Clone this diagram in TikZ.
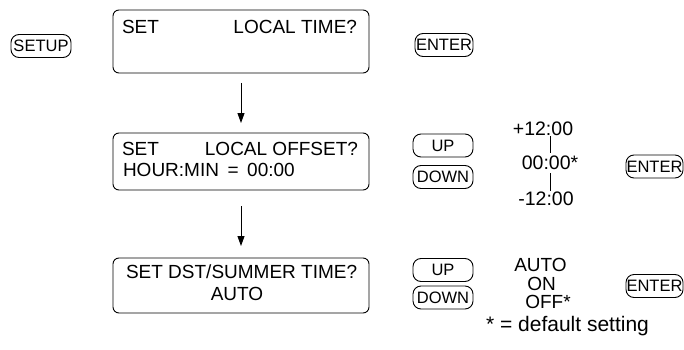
\documentclass[tikz,border=0pt]{standalone}
\usepackage{fontspec}
\setmainfont{Liberation Sans}
\usetikzlibrary{arrows.meta}
\begin{document}
\begin{tikzpicture}[x=1pt,y=-1pt,
  disp/.style={draw, line width=0.9pt, rounded corners=6pt, inner sep=0pt, outer sep=0pt, minimum width=256pt},
  btn/.style={draw, line width=0.9pt, rounded corners=8pt, inner sep=0pt, outer sep=0pt, minimum height=23pt, font=\fontsize{16.5}{16.5}\selectfont},
  txt/.style={inner sep=0pt, outer sep=0pt, font=\fontsize{19}{19}\selectfont},
  num/.style={inner sep=0pt, outer sep=0pt, font=\fontsize{19.5}{19.5}\selectfont},
  tick/.style={line width=0.8pt},
  arr/.style={line width=0.9pt, -{Triangle[length=10pt,width=7pt]}}]
\useasboundingbox (0,0) rectangle (684,350);
% display boxes
\node[disp, minimum height=63pt] (d1) at (241,41.5) {};
\node[disp, minimum height=57pt] (d2) at (241,161.5) {};
\node[disp, minimum height=55pt] (d3) at (241,285.5) {};
% display texts
\node[txt, anchor=base west] (t1a) at (122,34) {SET};
\node[txt, anchor=base east] (t1b) at (357,34) {LOCAL TIME?};
\node[txt, anchor=base west] (t2a) at (122,155) {SET};
\node[txt, anchor=base east] (t2b) at (358,155) {LOCAL OFFSET?};
\node[txt, anchor=base west] (t2c) at (123,176) {HOUR:MIN\hspace{0.45em}=\hspace{0.45em}00:00};
\node[txt, anchor=base west] (t3a) at (126,278) {SET DST/SUMMER TIME?};
\node[txt, anchor=base] (t3b) at (237,300) {AUTO};
% arrows
\draw[arr, shorten <=10pt, shorten >=10pt] (d1.south) -- (d2.north);
\draw[arr, shorten <=16pt, shorten >=12pt] (d2.south) -- (d3.north);
% buttons
\node[btn, minimum width=60pt] (setup) at (41,46) {SETUP};
\node[btn, minimum width=58pt] (enter1) at (444,45) {ENTER};
\node[btn, minimum width=60pt] (up2) at (443,145.5) {UP};
\node[btn, minimum width=60pt] (down2) at (443,177) {DOWN};
\node[btn, minimum width=57pt] (enter2) at (654.5,166.5) {ENTER};
\node[btn, minimum width=60pt] (up3) at (443,270) {UP};
\node[btn, minimum width=60pt] (down3) at (443,297.5) {DOWN};
\node[btn, minimum width=57pt] (enter3) at (654.5,286) {ENTER};
% offset values
\node[num, anchor=base] (vp) at (543,135) {+12:00};
\node[num, anchor=base] (vz) at (550,169) {00:00*};
\node[num, anchor=base] (vm) at (546,205) {-12:00};
\coordinate (l1a) at (550,136);
\coordinate (l1b) at (550,153);
\coordinate (l2a) at (550,173);
\coordinate (l2b) at (550,191);
\draw[tick] (l1a) -- (l1b);
\draw[tick] (l2a) -- (l2b);
% DST values
\node[txt, anchor=base] (va) at (540.5,271) {AUTO};
\node[txt, anchor=base] (vo) at (541.5,290) {ON};
\node[txt, anchor=base] (vf) at (548,308) {OFF*};
\node[anchor=base, inner sep=0pt, font=\fontsize{21}{21}\selectfont] (note) at (567.5,331) {* = default setting};
\end{tikzpicture}
\end{document}
